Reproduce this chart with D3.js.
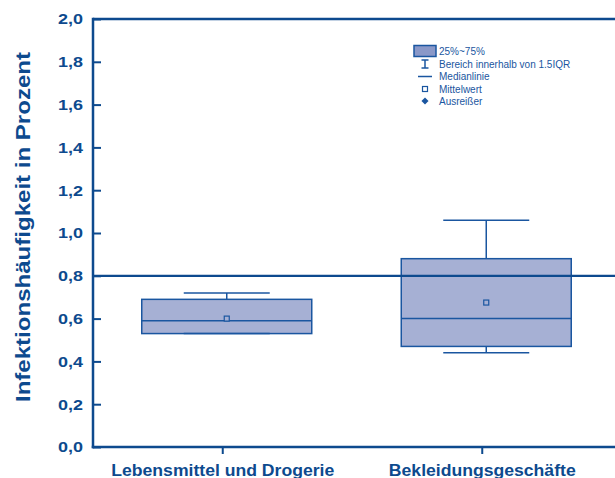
<!DOCTYPE html>
<html><head><meta charset="utf-8">
<script src="https://cdn.jsdelivr.net/npm/d3@7"></script>
<style>body{margin:0;background:#fff}svg{display:block}text{font-family:"Liberation Sans",Arial,sans-serif}</style>
</head><body><svg id="c" width="615" height="478"></svg>
<script>
const categories = ["Lebensmittel und Drogerie", "Bekleidungsgeschäfte"];
const q1 = [0.53, 0.47];
const median = [0.59, 0.60];
const q3 = [0.69, 0.88];
const whiskerLow = [0.53, 0.44];
const whiskerHigh = [0.72, 1.06];
const mean = [0.60, 0.675];
const referenceValue = 0.8;
const yTicks = [0, 0.2, 0.4, 0.6, 0.8, 1.0, 1.2, 1.4, 1.6, 1.8, 2.0];
const legendLabels = ["25%~75%", "Bereich innerhalb von 1.5IQR", "Medianlinie", "Mittelwert", "Ausreißer"];

const dark = "#0d4a8e", stroke = "#1a56a0", fill = "#a6b0d4";
const svg = d3.select("#c");
const L = 93, T = 19, B = 447, R = 612;
const y = d3.scaleLinear().domain([0, 2]).range([B, T]);
const x = d3.scaleBand().domain(categories).range([L, R]);
const boxShift = 4;
const cx = c => x(c) + x.bandwidth() / 2 + boxShift;
const boxW = 170, capW = 86;

svg.append("line").attr("x1", L).attr("x2", 620).attr("y1", T).attr("y2", T).attr("stroke", dark).attr("stroke-width", 2.5);
// y axis
const ya = svg.append("g").attr("transform", `translate(${L},0)`)
  .call(d3.axisRight(y).tickValues(yTicks).tickSize(8).tickFormat(d => d3.format(".1f")(d).replace(".", ",")));
ya.select(".domain").remove();
ya.selectAll(".tick line").attr("stroke", dark).attr("stroke-width", 2);
ya.selectAll(".tick text").attr("x", -10).attr("text-anchor", "end").attr("fill", dark)
  .attr("font-size", 15.5).attr("font-weight", "bold").attr("font-family", "Liberation Sans, Arial, sans-serif")
  .attr("textLength", 25).attr("lengthAdjust", "spacingAndGlyphs");
// x axis
const xa = svg.append("g").attr("transform", `translate(0,${B})`).call(d3.axisBottom(x).tickSize(7));
xa.select(".domain").remove();
xa.selectAll(".tick line").attr("stroke", dark).attr("stroke-width", 2);
xa.selectAll(".tick text").attr("y", 28.5).attr("dy", 0).attr("fill", dark)
  .attr("font-size", 16).attr("font-weight", "bold").attr("font-family", "Liberation Sans, Arial, sans-serif")
  .each(function() { const w = this.getComputedTextLength(); d3.select(this).attr("textLength", w * 1.1).attr("lengthAdjust", "spacingAndGlyphs"); });
svg.append("line").attr("x1", L).attr("x2", L).attr("y1", T - 1.25).attr("y2", B + 1.25).attr("stroke", dark).attr("stroke-width", 2.5);
svg.append("line").attr("x1", L - 1.25).attr("x2", 620).attr("y1", B).attr("y2", B).attr("stroke", dark).attr("stroke-width", 2.5);

// y title
svg.append("text").attr("transform", `translate(30,227) rotate(-90)`).attr("text-anchor", "middle")
  .attr("fill", dark).attr("font-size", 21).attr("font-weight", "bold")
  .attr("textLength", 350).attr("lengthAdjust", "spacingAndGlyphs").text("Infektionshäufigkeit in Prozent");

// boxes
categories.forEach((c, i) => {
  const g = svg.append("g"), m = cx(c);
  g.append("line").attr("x1", m).attr("x2", m).attr("y1", y(whiskerHigh[i])).attr("y2", y(q3[i])).attr("stroke", stroke).attr("stroke-width", 1.5);
  g.append("line").attr("x1", m).attr("x2", m).attr("y1", y(q1[i])).attr("y2", y(whiskerLow[i])).attr("stroke", stroke).attr("stroke-width", 1.5);
  g.append("rect").attr("x", m - boxW / 2).attr("width", boxW).attr("y", y(q3[i])).attr("height", y(q1[i]) - y(q3[i]))
    .attr("fill", fill).attr("stroke", stroke).attr("stroke-width", 1.5);
  g.append("line").attr("x1", m - capW / 2).attr("x2", m + capW / 2).attr("y1", y(whiskerHigh[i])).attr("y2", y(whiskerHigh[i])).attr("stroke", stroke).attr("stroke-width", 1.5);
  g.append("line").attr("x1", m - capW / 2).attr("x2", m + capW / 2).attr("y1", y(whiskerLow[i])).attr("y2", y(whiskerLow[i])).attr("stroke", stroke).attr("stroke-width", 1.5);
  g.append("line").attr("x1", m - boxW / 2).attr("x2", m + boxW / 2).attr("y1", y(median[i])).attr("y2", y(median[i])).attr("stroke", stroke).attr("stroke-width", 1.5);
  g.append("rect").attr("x", m - 2.5).attr("y", y(mean[i]) - 2.5).attr("width", 5).attr("height", 5)
    .attr("fill", fill).attr("stroke", stroke).attr("stroke-width", 1.2);
});

svg.append("line").attr("x1", L).attr("x2", 620).attr("y1", y(referenceValue)).attr("y2", y(referenceValue)).attr("stroke", dark).attr("stroke-width", 2.2);

// legend
const lx = 425, ly = [51, 64, 76.5, 89, 101];
const lg = svg.append("g");
lg.append("rect").attr("x", 414).attr("y", 45.5).attr("width", 22).attr("height", 11).attr("fill", "#8a98c8").attr("stroke", stroke).attr("stroke-width", 1.5);
lg.append("line").attr("x1", lx).attr("x2", lx).attr("y1", 60).attr("y2", 68).attr("stroke", stroke).attr("stroke-width", 1.5);
lg.append("line").attr("x1", lx - 3.5).attr("x2", lx + 3.5).attr("y1", 60).attr("y2", 60).attr("stroke", stroke).attr("stroke-width", 1.5);
lg.append("line").attr("x1", lx - 3.5).attr("x2", lx + 3.5).attr("y1", 68).attr("y2", 68).attr("stroke", stroke).attr("stroke-width", 1.5);
lg.append("line").attr("x1", 418).attr("x2", 432).attr("y1", ly[2]).attr("y2", ly[2]).attr("stroke", stroke).attr("stroke-width", 1.5);
lg.append("rect").attr("x", lx - 2.5).attr("y", ly[3] - 2.5).attr("width", 5).attr("height", 5).attr("fill", "none").attr("stroke", stroke).attr("stroke-width", 1.2);
lg.append("path").attr("d", d3.symbol(d3.symbolSquare, 25)()).attr("transform", `translate(${lx},${ly[4]}) rotate(45)`).attr("fill", stroke);
lg.selectAll("text.l").data(legendLabels).join("text").attr("class", "l")
  .attr("x", 439).attr("y", (d, i) => ly[i]).attr("dy", "0.35em").attr("fill", stroke).attr("font-size", 10).text(d => d);
</script></body></html>
